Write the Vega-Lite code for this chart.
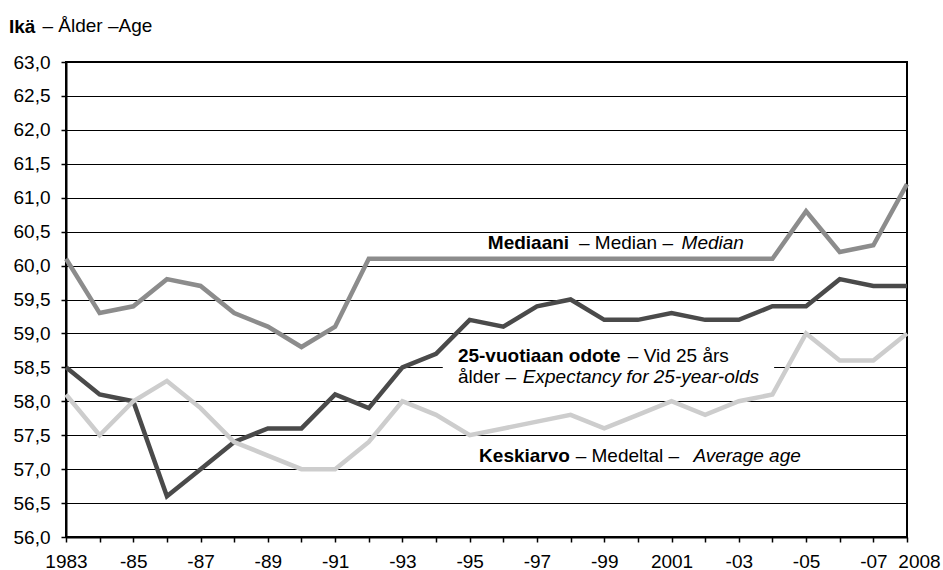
{
  "$schema": "https://vega.github.io/schema/vega-lite/v6.json",
  "width": 841,
  "height": 475,
  "autosize": {"type": "none"},
  "padding": {"left": 66, "top": 62, "right": 36, "bottom": 33},
  "background": "white",
  "config": {
    "font": "Liberation Sans",
    "view": {"stroke": "black", "strokeWidth": 2},
    "axis": {"labelFont": "Liberation Sans", "labelFontSize": 19, "labelColor": "black", "domainColor": "black", "tickColor": "black"}
  },
  "title": {"text": "Ikä", "anchor": "start", "frame": "group", "dx": -57, "dy": 21, "offset": 0, "fontSize": 19, "fontWeight": "bold", "font": "Liberation Sans", "color": "black"},
  "datasets": {
    "series": [
      {"year": 1983, "series": "Mediaani", "value": 60.1},
      {"year": 1984, "series": "Mediaani", "value": 59.3},
      {"year": 1985, "series": "Mediaani", "value": 59.4},
      {"year": 1986, "series": "Mediaani", "value": 59.8},
      {"year": 1987, "series": "Mediaani", "value": 59.7},
      {"year": 1988, "series": "Mediaani", "value": 59.3},
      {"year": 1989, "series": "Mediaani", "value": 59.1},
      {"year": 1990, "series": "Mediaani", "value": 58.8},
      {"year": 1991, "series": "Mediaani", "value": 59.1},
      {"year": 1992, "series": "Mediaani", "value": 60.1},
      {"year": 1993, "series": "Mediaani", "value": 60.1},
      {"year": 1994, "series": "Mediaani", "value": 60.1},
      {"year": 1995, "series": "Mediaani", "value": 60.1},
      {"year": 1996, "series": "Mediaani", "value": 60.1},
      {"year": 1997, "series": "Mediaani", "value": 60.1},
      {"year": 1998, "series": "Mediaani", "value": 60.1},
      {"year": 1999, "series": "Mediaani", "value": 60.1},
      {"year": 2000, "series": "Mediaani", "value": 60.1},
      {"year": 2001, "series": "Mediaani", "value": 60.1},
      {"year": 2002, "series": "Mediaani", "value": 60.1},
      {"year": 2003, "series": "Mediaani", "value": 60.1},
      {"year": 2004, "series": "Mediaani", "value": 60.1},
      {"year": 2005, "series": "Mediaani", "value": 60.8},
      {"year": 2006, "series": "Mediaani", "value": 60.2},
      {"year": 2007, "series": "Mediaani", "value": 60.3},
      {"year": 2008, "series": "Mediaani", "value": 61.2},
      {"year": 1983, "series": "Odote", "value": 58.5},
      {"year": 1984, "series": "Odote", "value": 58.1},
      {"year": 1985, "series": "Odote", "value": 58.0},
      {"year": 1986, "series": "Odote", "value": 56.6},
      {"year": 1987, "series": "Odote", "value": 57.0},
      {"year": 1988, "series": "Odote", "value": 57.4},
      {"year": 1989, "series": "Odote", "value": 57.6},
      {"year": 1990, "series": "Odote", "value": 57.6},
      {"year": 1991, "series": "Odote", "value": 58.1},
      {"year": 1992, "series": "Odote", "value": 57.9},
      {"year": 1993, "series": "Odote", "value": 58.5},
      {"year": 1994, "series": "Odote", "value": 58.7},
      {"year": 1995, "series": "Odote", "value": 59.2},
      {"year": 1996, "series": "Odote", "value": 59.1},
      {"year": 1997, "series": "Odote", "value": 59.4},
      {"year": 1998, "series": "Odote", "value": 59.5},
      {"year": 1999, "series": "Odote", "value": 59.2},
      {"year": 2000, "series": "Odote", "value": 59.2},
      {"year": 2001, "series": "Odote", "value": 59.3},
      {"year": 2002, "series": "Odote", "value": 59.2},
      {"year": 2003, "series": "Odote", "value": 59.2},
      {"year": 2004, "series": "Odote", "value": 59.4},
      {"year": 2005, "series": "Odote", "value": 59.4},
      {"year": 2006, "series": "Odote", "value": 59.8},
      {"year": 2007, "series": "Odote", "value": 59.7},
      {"year": 2008, "series": "Odote", "value": 59.7},
      {"year": 1983, "series": "Keskiarvo", "value": 58.1},
      {"year": 1984, "series": "Keskiarvo", "value": 57.5},
      {"year": 1985, "series": "Keskiarvo", "value": 58.0},
      {"year": 1986, "series": "Keskiarvo", "value": 58.3},
      {"year": 1987, "series": "Keskiarvo", "value": 57.9},
      {"year": 1988, "series": "Keskiarvo", "value": 57.4},
      {"year": 1989, "series": "Keskiarvo", "value": 57.2},
      {"year": 1990, "series": "Keskiarvo", "value": 57.0},
      {"year": 1991, "series": "Keskiarvo", "value": 57.0},
      {"year": 1992, "series": "Keskiarvo", "value": 57.4},
      {"year": 1993, "series": "Keskiarvo", "value": 58.0},
      {"year": 1994, "series": "Keskiarvo", "value": 57.8},
      {"year": 1995, "series": "Keskiarvo", "value": 57.5},
      {"year": 1996, "series": "Keskiarvo", "value": 57.6},
      {"year": 1997, "series": "Keskiarvo", "value": 57.7},
      {"year": 1998, "series": "Keskiarvo", "value": 57.8},
      {"year": 1999, "series": "Keskiarvo", "value": 57.6},
      {"year": 2000, "series": "Keskiarvo", "value": 57.8},
      {"year": 2001, "series": "Keskiarvo", "value": 58.0},
      {"year": 2002, "series": "Keskiarvo", "value": 57.8},
      {"year": 2003, "series": "Keskiarvo", "value": 58.0},
      {"year": 2004, "series": "Keskiarvo", "value": 58.1},
      {"year": 2005, "series": "Keskiarvo", "value": 59.0},
      {"year": 2006, "series": "Keskiarvo", "value": 58.6},
      {"year": 2007, "series": "Keskiarvo", "value": 58.6},
      {"year": 2008, "series": "Keskiarvo", "value": 59.0}
    ],
    "box": [{"x1": 1994.2, "x2": 2004.05, "y1": 58.2, "y2": 58.82}],
    "boldLabels": [
      {"year": 1995.54, "value": 60.34, "text": "Mediaani"},
      {"year": 1994.65, "value": 58.67, "text": "25-vuotiaan odote"},
      {"year": 1995.28, "value": 57.2, "text": "Keskiarvo"}
    ],
    "normalLabels": [
      {"year": 1998.25, "value": 60.34, "text": "– Median –"},
      {"year": 1999.7, "value": 58.67, "text": "– Vid 25 års"},
      {"year": 1994.65, "value": 58.36, "text": "ålder –"},
      {"year": 1998.15, "value": 57.2, "text": "– Medeltal –"}
    ],
    "italicLabels": [
      {"year": 2001.3, "value": 60.34, "text": "Median"},
      {"year": 1996.58, "value": 58.36, "text": "Expectancy for 25-year-olds"},
      {"year": 2001.65, "value": 57.2, "text": "Average age"}
    ]
  },
  "encoding": {
    "x": {
      "field": "year", "type": "quantitative",
      "scale": {"domain": [1983, 2008], "nice": false, "zero": false},
      "axis": {
        "title": null, "grid": false,
        "values": [1983,1984,1985,1986,1987,1988,1989,1990,1991,1992,1993,1994,1995,1996,1997,1998,1999,2000,2001,2002,2003,2004,2005,2006,2007,2008],
        "labelExpr": "datum.value == 1983 || datum.value == 2001 || datum.value == 2008 ? toString(datum.value) : (datum.value % 2 == 1 ? '-' + substring(toString(datum.value), 2, 4) : '')",
        "labelOverlap": false,
        "labelFlush": false,
        "labelOffset": {"condition": {"test": "datum.value == 2008", "value": 12}, "value": 0},
        "tickSize": 5, "tickWidth": 1.5, "domainWidth": 2, "labelPadding": 10
      }
    },
    "y": {
      "field": "value", "type": "quantitative",
      "scale": {"domain": [56, 63], "nice": false, "zero": false},
      "axis": {
        "title": "– Ålder –Age",
        "titleAngle": 0, "titleAlign": "left", "titleBaseline": "middle",
        "titleX": -24, "titleY": -37,
        "titleFont": "Liberation Sans", "titleFontSize": 19, "titleFontWeight": "normal", "titleColor": "black",
        "values": [56, 56.5, 57, 57.5, 58, 58.5, 59, 59.5, 60, 60.5, 61, 61.5, 62, 62.5, 63],
        "labelExpr": "replace(format(datum.value, '.1f'), '.', ',')",
        "grid": true, "gridColor": "black", "gridWidth": 1,
        "tickSize": 5, "tickWidth": 1.5, "domainWidth": 2, "labelPadding": 11
      }
    }
  },
  "layer": [
    {
      "data": {"name": "box"},
      "mark": {"type": "rect", "fill": "white"},
      "encoding": {
        "x": {"field": "x1", "type": "quantitative"},
        "x2": {"field": "x2"},
        "y": {"field": "y1", "type": "quantitative"},
        "y2": {"field": "y2"}
      }
    },
    {
      "data": {"name": "series"},
      "transform": [{"filter": "datum.series == 'Odote'"}],
      "mark": {"type": "line", "color": "#4a4a4a", "strokeWidth": 4.5}
    },
    {
      "data": {"name": "series"},
      "transform": [{"filter": "datum.series == 'Keskiarvo'"}],
      "mark": {"type": "line", "color": "#cdcdcd", "strokeWidth": 4.5}
    },
    {
      "data": {"name": "series"},
      "transform": [{"filter": "datum.series == 'Mediaani'"}],
      "mark": {"type": "line", "color": "#8c8c8c", "strokeWidth": 4.5}
    },
    {
      "data": {"name": "boldLabels"},
      "mark": {"type": "text", "align": "left", "baseline": "middle", "fontSize": 19, "fontWeight": "bold", "font": "Liberation Sans", "color": "black"},
      "encoding": {"text": {"field": "text"}}
    },
    {
      "data": {"name": "normalLabels"},
      "mark": {"type": "text", "align": "left", "baseline": "middle", "fontSize": 19, "font": "Liberation Sans", "color": "black"},
      "encoding": {"text": {"field": "text"}}
    },
    {
      "data": {"name": "italicLabels"},
      "mark": {"type": "text", "align": "left", "baseline": "middle", "fontSize": 19, "fontStyle": "italic", "font": "Liberation Sans", "color": "black"},
      "encoding": {"text": {"field": "text"}}
    }
  ]
}
